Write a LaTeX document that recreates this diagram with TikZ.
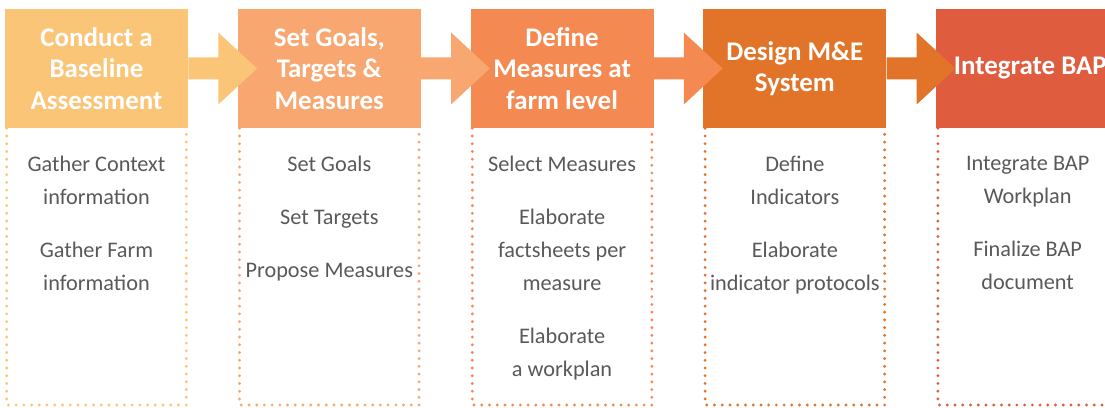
\documentclass[tikz,border=0pt]{standalone}
\usepackage{fontspec}
\setmainfont{Carlito}
\usepackage{xcolor}
\usepackage{tikz}
\usetikzlibrary{positioning,calc}
\definecolor{ink}{RGB}{89,89,89}
\definecolor{sand}{RGB}{251,197,120}
\definecolor{peach}{RGB}{247,167,111}
\definecolor{apricot}{RGB}{244,137,82}
\definecolor{rust}{RGB}{225,116,40}
\definecolor{brick}{RGB}{224,92,63}
\tikzset{
  stage/.style={text=white,font=\bfseries\fontsize{20.2pt}{23.6pt}\selectfont,align=center,
    minimum width=137.25pt,minimum height=89.25pt,inner sep=0pt},
  tasks/.style={text=ink,font=\fontsize{16.7pt}{24.75pt}\selectfont,align=center,inner sep=0pt},
  frame/.style={line width=2.4pt,line cap=round,dash pattern=on 0pt off 5.8pt}
}

\begin{document}
\begin{tikzpicture}[x=0.75pt,y=0.75pt,node distance=36.94pt]
  \clip (0,0) rectangle (1105,407);
  \coordinate (floor) at (0,2);
  % stage headers
  \node[stage,fill=sand] (baseline) at (96.5,338.5) {Conduct a\\Baseline\\Assessment};
  \node[stage,fill=peach,right=of baseline] (goals) {Set Goals,\\Targets \&\\Measures};
  \node[stage,fill=apricot,right=of goals] (define) {Define\\Measures at\\farm level};
  \node[stage,fill=rust,right=of define] (system) {Design M\&E\\System};
  \node[stage,fill=brick,right=of system] (integrate) {\hspace*{4pt}Integrate BAP};
  % block arrows from one stage to the next
  \fill[sand] ($(baseline.east)+(0,11)$) -- ++(30,0) -- ++(0,25) -- ($(goals.west)+(19.5,0)$)
    -- ($(baseline.east)+(30,-36)$) -- ++(0,25) -- ($(baseline.east)+(0,-11)$) -- cycle;
  \fill[peach] ($(goals.east)+(0,11)$) -- ++(30,0) -- ++(0,25) -- ($(define.west)+(19.5,0)$)
    -- ($(goals.east)+(30,-36)$) -- ++(0,25) -- ($(goals.east)+(0,-11)$) -- cycle;
  \fill[apricot] ($(define.east)+(0,11)$) -- ++(30,0) -- ++(0,25) -- ($(system.west)+(19.5,0)$)
    -- ($(define.east)+(30,-36)$) -- ++(0,25) -- ($(define.east)+(0,-11)$) -- cycle;
  \fill[rust] ($(system.east)+(0,11)$) -- ++(30,0) -- ++(0,25) -- ($(integrate.west)+(19.5,0)$)
    -- ($(system.east)+(30,-36)$) -- ++(0,25) -- ($(system.east)+(0,-11)$) -- cycle;
  % dotted frames below the stages
  \draw[frame,sand] ($(baseline.south west)+(2,0)$) |- ($(baseline.south east |- floor)+(-2,0)$)
    -- ($(baseline.south east)+(-2,0)$);
  \draw[frame,peach] ($(goals.south west)+(2,0)$) |- ($(goals.south east |- floor)+(-2,0)$)
    -- ($(goals.south east)+(-2,0)$);
  \draw[frame,apricot] ($(define.south west)+(2,0)$) |- ($(define.south east |- floor)+(-2,0)$)
    -- ($(define.south east)+(-2,0)$);
  \draw[frame,rust] ($(system.south west)+(2,0)$) |- ($(system.south east |- floor)+(-2,0)$)
    -- ($(system.south east)+(-2,0)$);
  \draw[frame,brick] ($(integrate.south west)+(2,0)$) |- ($(integrate.south east |- floor)+(-2,0)$)
    -- ($(integrate.south east)+(-2,0)$);
  % task lists
  \node[tasks,below=21pt of baseline] (baseline-tasks)
    {Gather Context\\information\\[15pt]Gather Farm\\information};
  \node[tasks,below=21pt of goals] (goals-tasks)
    {Set Goals\\[15pt]Set Targets\\[15pt]Propose Measures};
  \node[tasks,below=21pt of define] (define-tasks)
    {Select Measures\\[15pt]Elaborate\\factsheets per\\measure\\[15pt]Elaborate\\a workplan};
  \node[tasks,below=21pt of system] (system-tasks)
    {Define\\Indicators\\[15pt]Elaborate\\indicator protocols};
  \node[tasks,below=21pt of integrate] (integrate-tasks)
    {Integrate BAP\\Workplan\\[15pt]Finalize BAP\\document};
\end{tikzpicture}
\end{document}
